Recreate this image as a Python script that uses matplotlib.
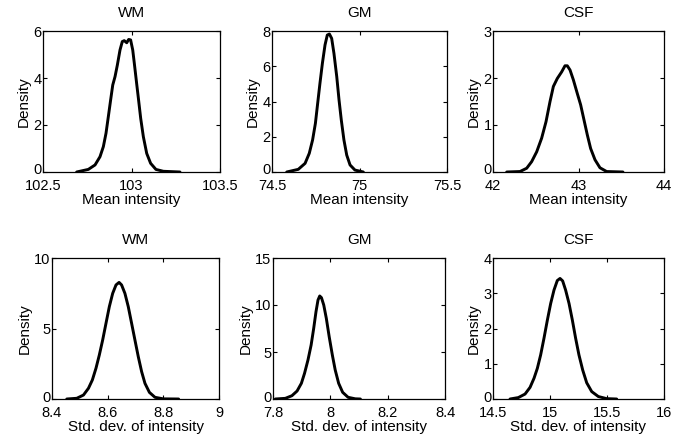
import matplotlib
matplotlib.use("Agg")
import matplotlib.pyplot as plt
import matplotlib.transforms as mtransforms

plt.rcParams['font.family'] = ['Liberation Sans', 'DejaVu Sans']

titles = ["WM", "GM", "CSF", "WM", "GM", "CSF"]
xlabels = ["Mean intensity"] * 3 + ["Std. dev. of intensity"] * 3

# Density curves (x, density)
wm_mean_x = [102.690, 102.756, 102.794, 102.822, 102.841, 102.856, 102.869, 102.882, 102.894,
             102.907, 102.920, 102.935, 102.948, 102.959, 102.973, 102.984, 102.995, 103.007,
             103.016, 103.029, 103.039, 103.052, 103.067, 103.086, 103.108, 103.138, 103.180, 103.274]
wm_mean_y = [0.0, 0.11, 0.30, 0.65, 1.08, 1.65, 2.35, 3.06, 3.70,
             4.06, 4.55, 5.19, 5.55, 5.59, 5.50, 5.64, 5.62, 5.19,
             4.62, 3.77, 3.13, 2.28, 1.50, 0.79, 0.37, 0.11, 0.03, 0.0]

gm_mean_x = [74.584, 74.650, 74.689, 74.713, 74.732, 74.748, 74.761, 74.774, 74.788, 74.803,
             74.816, 74.828, 74.841, 74.854, 74.870, 74.883, 74.896, 74.911, 74.927, 74.946,
             74.974, 75.022]
gm_mean_y = [0.0, 0.15, 0.49, 1.06, 1.82, 2.76, 3.90, 5.03, 6.17, 7.21,
             7.77, 7.83, 7.58, 6.73, 5.41, 4.09, 2.95, 1.82, 0.96, 0.40,
             0.11, 0.0]

csf_mean_x = [42.160, 42.316, 42.394, 42.452, 42.511, 42.569, 42.620, 42.667, 42.706, 42.752,
              42.803, 42.842, 42.869, 42.901, 42.940, 42.986, 43.025, 43.064, 43.103, 43.142,
              43.193, 43.251, 43.329, 43.520]
csf_mean_y = [0.0, 0.01, 0.08, 0.22, 0.43, 0.72, 1.07, 1.50, 1.82, 1.99,
              2.13, 2.26, 2.26, 2.17, 1.96, 1.67, 1.43, 1.11, 0.79, 0.50,
              0.26, 0.09, 0.01, 0.0]

wm_std_x = [8.453, 8.489, 8.513, 8.531, 8.545, 8.558, 8.570, 8.582, 8.594, 8.606,
            8.618, 8.630, 8.641, 8.650, 8.662, 8.674, 8.686, 8.698, 8.710, 8.722,
            8.734, 8.750, 8.770, 8.800, 8.855]
wm_std_y = [0.0, 0.05, 0.28, 0.76, 1.35, 2.18, 3.12, 4.18, 5.37, 6.55,
            7.49, 8.09, 8.27, 8.09, 7.49, 6.55, 5.37, 4.18, 3.00, 1.94,
            1.11, 0.47, 0.12, 0.01, 0.0]

gm_std_x = [7.808, 7.843, 7.866, 7.884, 7.899, 7.910, 7.922, 7.933, 7.942, 7.950,
            7.957, 7.963, 7.969, 7.977, 7.986, 7.996, 8.007, 8.017, 8.029, 8.043,
            8.062, 8.087, 8.105]
gm_std_y = [0.0, 0.07, 0.35, 0.85, 1.67, 2.73, 4.15, 5.74, 7.52, 9.29,
            10.53, 10.96, 10.78, 10.0, 8.58, 6.63, 4.68, 3.09, 1.67, 0.71,
            0.18, 0.02, 0.0]

csf_std_x = [14.649, 14.722, 14.781, 14.825, 14.860, 14.889, 14.918, 14.947, 14.977, 15.006,
             15.035, 15.064, 15.088, 15.111, 15.137, 15.167, 15.196, 15.225, 15.254, 15.287,
             15.322, 15.366, 15.424, 15.497, 15.585]
csf_std_y = [0.0, 0.04, 0.14, 0.33, 0.59, 0.87, 1.25, 1.72, 2.24, 2.71,
             3.09, 3.36, 3.42, 3.35, 3.09, 2.71, 2.24, 1.72, 1.25, 0.82,
             0.46, 0.21, 0.07, 0.01, 0.0]

curves = [(wm_mean_x, wm_mean_y), (gm_mean_x, gm_mean_y), (csf_mean_x, csf_mean_y),
          (wm_std_x, wm_std_y), (gm_std_x, gm_std_y), (csf_std_x, csf_std_y)]

xlims = [(102.5, 103.5), (74.5, 75.5), (42, 44), (8.4, 9), (7.8, 8.4), (14.5, 16)]
ylims = [(0, 6), (0, 8), (0, 3), (0, 10), (0, 15), (0, 4)]
xticks = [[102.5, 103, 103.5], [74.5, 75, 75.5], [42, 43, 44],
          [8.4, 8.6, 8.8, 9], [7.8, 8, 8.2, 8.4], [14.5, 15, 15.5, 16]]
xticklabels = [["102.5", "103", "103.5"], ["74.5", "75", "75.5"], ["42", "43", "44"],
               ["8.4", "8.6", "8.8", "9"], ["7.8", "8", "8.2", "8.4"], ["14.5", "15", "15.5", "16"]]
yticks = [[0, 2, 4, 6], [0, 2, 4, 6, 8], [0, 1, 2, 3], [0, 5, 10], [0, 5, 10, 15], [0, 1, 2, 3, 4]]

W, H = 691, 437
fig = plt.figure(figsize=(W / 100, H / 100), dpi=100)
# pixel boxes (left, top, right, bottom)
boxes = [(43, 31, 220, 172), (272, 31, 447, 172), (493, 31, 664, 172),
         (52, 258, 219, 399), (273, 258, 445, 399), (493, 258, 664, 399)]

nudge = mtransforms.ScaledTranslation(0, 3 / 100, fig.dpi_scale_trans)

for i in range(6):
    l, t, r, b = boxes[i]
    ax = fig.add_axes([l / W, 1 - b / H, (r - l) / W, (b - t) / H])
    x, y = curves[i]
    ax.plot(x, y, color='black', lw=2.1, solid_joinstyle='round', solid_capstyle='round')
    ax.set_xlim(*xlims[i])
    ax.set_ylim(*ylims[i])
    ax.set_xticks(xticks[i])
    ax.set_xticklabels(xticklabels[i])
    ax.set_yticks(yticks[i])
    ax.set_yticklabels([str(v) for v in yticks[i]])
    ax.tick_params(direction='in', top=True, right=True, length=3, width=0.8,
                   labelsize=10.5)
    ax.tick_params(axis='x', pad=5)
    ax.tick_params(axis='y', pad=1)
    # lift the "0" label slightly so it does not collide with the first x label
    lab0 = ax.get_yticklabels()[0]
    lab0.set_transform(lab0.get_transform() + nudge)
    for s in ax.spines.values():
        s.set_linewidth(0.9)
    ax.set_title(titles[i], fontsize=11, pad=10)
    ax.set_xlabel(xlabels[i], fontsize=11, labelpad=0)
    ax.set_ylabel("Density", fontsize=11, labelpad=2)

fig.savefig("out.png", dpi=100)
